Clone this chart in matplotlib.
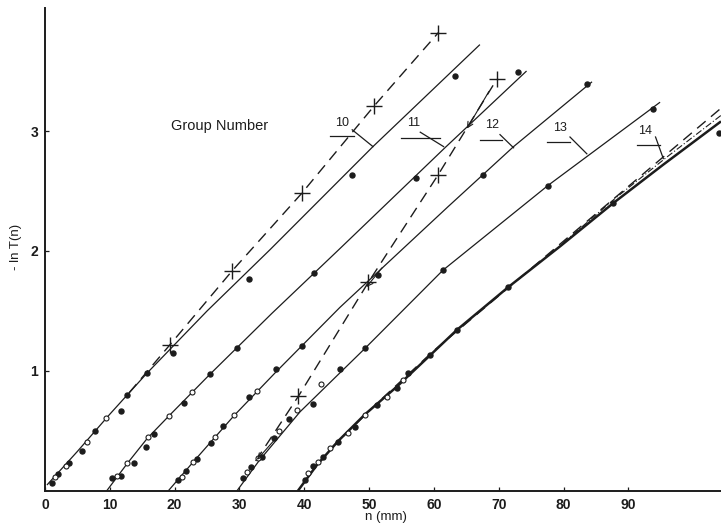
import matplotlib
matplotlib.use("Agg")
import matplotlib.pyplot as plt

plt.rcParams['font.family'] = ['Liberation Sans', 'DejaVu Sans']

# ---------------- data ----------------
# solid fitted curves, one per group
g10_x = [0.3, 5, 10, 15.7, 25, 34.7, 50.6, 67.1]
g10_y = [0.05, 0.33, 0.64, 0.98, 1.50, 2.01, 2.87, 3.72]
g11_x = [9.5, 12.7, 15.8, 19.2, 25.4, 35, 45.5, 61.7, 74.3]
g11_y = [0.0, 0.23, 0.44, 0.63, 0.97, 1.48, 2.02, 2.86, 3.50]
g12_x = [19.0, 23, 29.2, 35.6, 45.5, 62.2, 72.3, 84.4]
g12_y = [0.0, 0.25, 0.63, 0.99, 1.53, 2.37, 2.87, 3.41]
g13_x = [29.6, 33, 39.35, 49.4, 61.4, 77.7, 94.9]
g13_y = [0.0, 0.25, 0.66, 1.19, 1.84, 2.55, 3.24]
g14_x = [39.0, 42, 45.3, 49.4, 54.3, 59.4, 63.5, 71.5, 79.5, 87.7, 95.4, 104.3]
g14_y = [0.0, 0.22, 0.42, 0.64, 0.87, 1.13, 1.34, 1.70, 2.04, 2.40, 2.72, 3.08]

# dashed extrapolations with "+" points
d10_x = [13, 19.3, 28.8, 39.6, 50.8, 60.7]
d10_y = [0.82, 1.22, 1.83, 2.48, 3.21, 3.82]
d11_x = [32.5, 39.1, 49.9, 60.6, 69.7]
d11_y = [0.25, 0.79, 1.74, 2.63, 3.43]
d14_x = [44, 52, 60, 104.3]
d14_y = [0.35, 0.77, 1.17, 3.19]
dd14_x = [80, 88, 96, 104.3]
dd14_y = [2.07, 2.44, 2.785, 3.13]

# measured points: filled (f) and open (o)
p10f_x = [1.03, 2.05, 3.75, 5.66, 7.72, 11.68, 12.70, 15.69, 19.80, 31.53, 47.42, 63.27]
p10f_y = [0.069, 0.142, 0.231, 0.336, 0.503, 0.667, 0.80, 0.981, 1.15, 1.77, 2.63, 3.46]
p10o_x = [1.54, 3.24, 6.44, 9.37]
p10o_y = [0.119, 0.208, 0.406, 0.606]
p11f_x = [10.29, 11.73, 13.73, 15.59, 16.87, 21.45, 25.46, 29.68, 41.56, 57.30, 73.04]
p11f_y = [0.111, 0.128, 0.236, 0.364, 0.472, 0.736, 0.973, 1.19, 1.82, 2.61, 3.49]
p11o_x = [11.16, 12.70, 15.85, 19.18, 22.64]
p11o_y = [0.128, 0.231, 0.448, 0.625, 0.823]
p12f_x = [20.57, 21.76, 23.50, 25.57, 27.52, 31.53, 35.60, 39.61, 51.44, 67.64, 83.64]
p12f_y = [0.092, 0.169, 0.267, 0.403, 0.544, 0.786, 1.017, 1.21, 1.80, 2.63, 3.39]
p12o_x = [21.10, 22.89, 26.23, 29.17, 32.67]
p12o_y = [0.119, 0.244, 0.453, 0.633, 0.833]
p13f_x = [30.60, 31.74, 33.53, 35.39, 37.70, 41.40, 45.52, 49.38, 61.37, 77.67, 93.78]
p13f_y = [0.106, 0.203, 0.286, 0.439, 0.598, 0.725, 1.02, 1.195, 1.84, 2.54, 3.18]
p13o_x = [31.13, 32.92, 36.16, 38.84, 42.52]
p13o_y = [0.161, 0.273, 0.50, 0.675, 0.89]
p14f_x = [40.12, 41.40, 42.95, 45.26, 47.84, 51.19, 54.27, 56.07, 59.41, 63.53, 71.50, 87.70, 104.0]
p14f_y = [0.092, 0.211, 0.286, 0.411, 0.536, 0.717, 0.856, 0.981, 1.133, 1.342, 1.70, 2.40, 2.98]
p14o_x = [40.63, 42.18, 43.98, 46.81, 49.38, 52.73, 55.29]
p14o_y = [0.148, 0.244, 0.356, 0.481, 0.633, 0.786, 0.925]

group_labels = ['10', '11', '12', '13', '14']
x_ticks = [0, 10, 20, 30, 40, 50, 60, 70, 80, 90]
y_ticks = [1, 2, 3]

# ---------------- drawing ----------------
INK = '#1c1c1c'
fig = plt.figure(figsize=(7.21, 5.28), dpi=100)
ax = fig.add_axes([45 / 721, 37 / 528, 676 / 721, 483 / 528])
ax.set_xlim(0, 104.3)
ax.set_ylim(0, 4.025)

for gx, gy, lw in [(g10_x, g10_y, 0.9), (g11_x, g11_y, 0.9), (g12_x, g12_y, 0.9),
                   (g13_x, g13_y, 0.9), (g14_x, g14_y, 1.8)]:
    ax.plot(gx, gy, color=INK, lw=lw, solid_capstyle='butt')

for dx, dy in [(d10_x, d10_y), (d11_x, d11_y)]:
    ax.plot(dx, dy, color=INK, lw=1.0, ls=(0, (8, 5)))
    ax.plot(dx[1:], dy[1:], ls='none', marker='+', ms=12, mew=1.0, color=INK)
ax.plot(d14_x, d14_y, color=INK, lw=1.0, ls=(0, (8, 5)))
ax.plot(dd14_x, dd14_y, color=INK, lw=0.8, ls=(0, (6, 2, 1, 2)))

for fx, fy in [(p10f_x, p10f_y), (p11f_x, p11f_y), (p12f_x, p12f_y),
               (p13f_x, p13f_y), (p14f_x, p14f_y)]:
    ax.plot(fx, fy, ls='none', marker='o', ms=3.6, color=INK, clip_on=False)
for ox, oy in [(p10o_x, p10o_y), (p11o_x, p11o_y), (p12o_x, p12o_y),
               (p13o_x, p13o_y), (p14o_x, p14o_y)]:
    ax.plot(ox, oy, ls='none', marker='o', ms=3.6, mfc='white', mec=INK, mew=0.8)

# small arrows along the dashed constructions
for (x0, y0), (x1, y1) in [((68.5, 3.33), (65.1, 3.02)),
                           ((52.0, 1.86), (49.6, 1.70)),
                           ((35.8, 0.45), (32.7, 0.26))]:
    ax.annotate('', xy=(x1, y1), xytext=(x0, y0),
                arrowprops=dict(arrowstyle='->', color=INK, lw=0.8, shrinkA=0, shrinkB=0))

# group number labels with underline and pointer
label_geo = [  # text x, text y, underline x0, x1, y, pointer start, pointer end
    (45.8, 3.02, 44.0, 47.6, 2.955, (47.4, 3.01), (50.6, 2.87)),
    (56.8, 3.02, 55.0, 61.0, 2.945, (57.9, 2.99), (61.5, 2.87)),
    (69.0, 3.00, 67.1, 70.5, 2.925, (70.2, 2.97), (72.3, 2.86)),
    (79.5, 2.975, 77.4, 81.0, 2.905, (81.0, 2.95), (83.6, 2.81)),
    (92.6, 2.95, 91.3, 94.9, 2.880, (94.2, 2.95), (95.4, 2.77)),
]
for lab, (tx, ty, u0, u1, uy, ps, pe) in zip(group_labels, label_geo):
    ax.text(tx, ty, lab, fontsize=9, ha='center', va='bottom', color=INK)
    ax.plot([u0, u1], [uy, uy], color=INK, lw=0.9)
    ax.plot([ps[0], pe[0]], [ps[1], pe[1]], color=INK, lw=0.9)

ax.text(27.0, 3.04, 'Group Number', fontsize=10.5, ha='center', va='center', color=INK)

# axes styling
for s in ['top', 'right']:
    ax.spines[s].set_visible(False)
for s in ['left', 'bottom']:
    ax.spines[s].set_linewidth(1.4)
    ax.spines[s].set_color(INK)
ax.set_xticks(x_ticks)
ax.set_xticklabels([str(v) for v in x_ticks])
ax.set_yticks(y_ticks)
ax.set_yticklabels([str(v) for v in y_ticks])
ax.tick_params(direction='in', length=3, width=0.9, colors=INK, labelsize=10, pad=5)
for t in ax.get_xticklabels() + ax.get_yticklabels():
    t.set_fontweight('bold')
ax.set_xlabel('n (mm)', fontsize=9.5, color=INK)
ax.xaxis.set_label_coords(0.504, -0.042)
ax.set_ylabel('- ln T(n)', fontsize=9.5, color=INK)
ax.yaxis.set_label_coords(-0.034, 0.505)

fig.savefig('out.png', dpi=100, facecolor='white')
